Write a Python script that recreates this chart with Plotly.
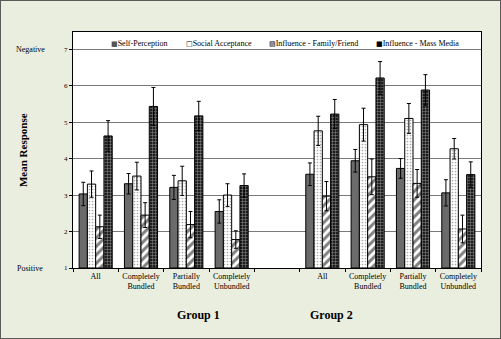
import plotly.graph_objects as go

# ---- data ----
cat_labels = ["All", "Completely<br>Bundled", "Partially<br>Bundled", "Completely<br>Unbundled", "",
              "All", "Completely<br>Bundled", "Partially<br>Bundled", "Completely<br>Unbundled"]
series_names = ["Self-Perception", "Social Acceptance", "Influence - Family/Friend", "Influence - Mass Media"]

self_perception = [3.03, 3.31, 3.21, 2.55, None, 3.57, 3.94, 3.73, 3.06]
self_perception_err = [0.32, 0.28, 0.33, 0.32, None, 0.31, 0.31, 0.27, 0.36]
social_acceptance = [3.30, 3.52, 3.39, 3.00, None, 4.76, 4.93, 5.10, 4.27]
social_acceptance_err = [0.36, 0.38, 0.40, 0.31, None, 0.40, 0.45, 0.41, 0.28]
family_friend = [2.13, 2.45, 2.19, 1.78, None, 2.97, 3.50, 3.32, 2.07]
family_friend_err = [0.32, 0.34, 0.36, 0.24, None, 0.40, 0.49, 0.38, 0.38]
mass_media = [4.62, 5.43, 5.17, 3.26, None, 5.22, 6.21, 5.88, 3.56]
mass_media_err = [0.42, 0.52, 0.40, 0.32, None, 0.40, 0.45, 0.42, 0.35]

y_ticks = [1, 2, 3, 4, 5, 6, 7]
group_labels = ["Group 1", "Group 2"]

x = list(range(len(cat_labels)))
SERIF = "Liberation Serif"
BASE = 1

styles = [
    dict(color="#6b6b6b", pattern=dict(shape="")),
    dict(color="white", pattern=dict(shape=".", fgcolor="#555555", size=3, solidity=0.25)),
    dict(color="white", pattern=dict(shape="/", fgcolor="black", size=6, solidity=0.5)),
    dict(color="#1e1e1e", pattern=dict(shape="+", fgcolor="white", size=3, solidity=0.3)),
]
legend_glyphs = [("■", "#555555"), ("□", "black"), ("▨", "black"), ("■", "black")]
values = [self_perception, social_acceptance, family_friend, mass_media]
errors = [self_perception_err, social_acceptance_err, family_friend_err, mass_media_err]

fig = go.Figure()
for name, vals, errs, st in zip(series_names, values, errors, styles):
    fig.add_trace(go.Bar(
        x=x,
        y=[(v - BASE) if v is not None else None for v in vals],
        base=[BASE if v is not None else None for v in vals],
        name=name,
        marker=dict(color=st["color"], pattern=st["pattern"], line=dict(color="black", width=1)),
        error_y=dict(type="data", array=errs, color="black", thickness=1, width=2),
    ))

fig.update_layout(
    width=501, height=339,
    margin=dict(l=73, r=20, t=32, b=71),
    paper_bgcolor="#eaeedf",
    plot_bgcolor="white",
    barmode="group", bargap=0.27, bargroupgap=0.0,
    font=dict(family=SERIF, color="black", size=8),
    showlegend=False,
)
fig.update_xaxes(
    tickmode="array", tickvals=x, ticktext=cat_labels, ticks="",
    range=[-0.5, len(x) - 0.5],
    showline=True, linecolor="black", linewidth=1, mirror=True,
    tickfont=dict(size=8, family=SERIF, color="black"),
    minor=dict(tickmode="array", tickvals=[i - 0.5 for i in range(len(x) + 1)],
               ticks="outside", ticklen=3, tickcolor="black", showgrid=False),
    showgrid=False, zeroline=False,
)
fig.update_yaxes(
    range=[1, 7.47], tickmode="array", tickvals=y_ticks,
    ticks="outside", ticklen=3, tickcolor="black",
    showline=True, linecolor="black", linewidth=1, mirror=True,
    showgrid=True, gridcolor="#7a7a7a", gridwidth=1,
    tickfont=dict(size=7, family=SERIF, color="black"), zeroline=False,
)

# legend (drawn as text entries inside the plot box, as in the original)
legend_x = [112, 187, 270, 377]
for name, (glyph, gcol), lx in zip(series_names, legend_glyphs, legend_x):
    fig.add_annotation(
        text=f"<span style='font-family:DejaVu Sans;font-size:7px;color:{gcol}'>{glyph}</span>{name}",
        xref="paper", yref="paper", x=(lx - 3 - 73) / 408, y=1 - (43 - 32) / 236,
        xanchor="left", yanchor="middle", showarrow=False,
        font=dict(size=8, family=SERIF, color="black"))

# y-axis annotations
fig.add_annotation(text="Negative", xref="paper", yref="y", x=-0.105, y=7, showarrow=False,
                   font=dict(size=8, family=SERIF), xanchor="center")
fig.add_annotation(text="Positive", xref="paper", yref="y", x=-0.105, y=1, showarrow=False,
                   font=dict(size=8, family=SERIF), xanchor="center")
fig.add_annotation(text="<b>Mean Response</b>", xref="paper", yref="paper", x=-0.142, y=0.5,
                   textangle=-90, showarrow=False, font=dict(size=11, family=SERIF))
for label, px in zip(group_labels, [175, 355]):
    fig.add_annotation(text="<b>" + label + "</b>", xref="paper", yref="paper", x=(px - 73) / 408,
                       y=-(315 - 268) / 236, yanchor="middle", showarrow=False,
                       font=dict(size=12, family=SERIF))

# outer border
fig.add_shape(type="rect", xref="paper", yref="paper", x0=-73/408, x1=1 + 20/408,
              y0=-71/236, y1=1 + 32/236, line=dict(color="#5a5a5a", width=2))

fig.write_html("out.html")
